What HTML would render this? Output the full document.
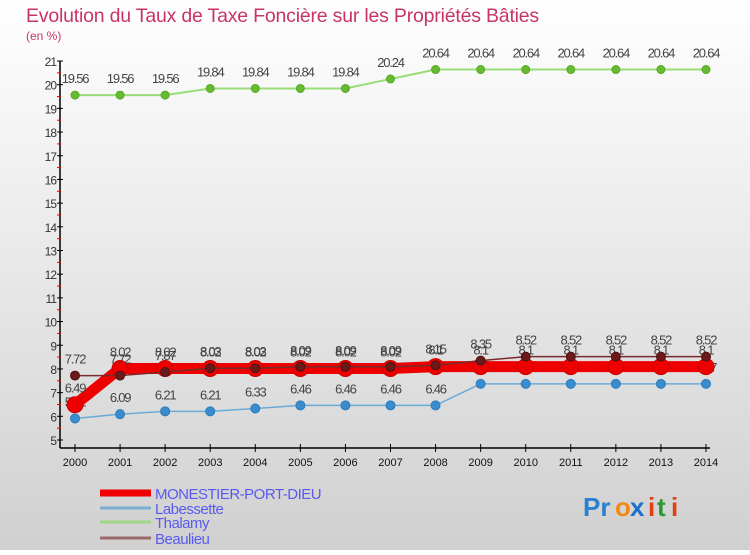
<!DOCTYPE html>
<html><head><meta charset="utf-8"><style>
html,body{margin:0;padding:0}
body{width:750px;height:550px;overflow:hidden;font-family:"Liberation Sans",sans-serif}
</style></head><body>
<svg id="chart" width="750" height="550" xmlns="http://www.w3.org/2000/svg">
<defs><linearGradient id="bg" x1="0" y1="0" x2="0" y2="1"><stop offset="0" stop-color="#ffffff"/><stop offset="1" stop-color="#d0d0d0"/></linearGradient></defs>
<rect x="0" y="0" width="750" height="550" fill="url(#bg)"/>
<text x="26" y="22" font-size="19.5" font-weight="300" fill="#c8336a" letter-spacing="-0.2">Evolution du Taux de Taxe Foncière sur les Propriétés Bâties</text>
<text x="26" y="40" font-size="12" fill="#c8336a">(en %)</text>
<g id="axes"></g><g id="series"></g><g id="legend"></g>
<g font-size="26" font-weight="bold">
<text x="583" y="516" fill="#2a7fd0">Pr</text><text x="615" y="516" fill="#f08a10">o</text><text x="630" y="516" fill="#1a6fd0">x</text><text x="648" y="516" fill="#e04010">i</text><text x="657" y="516" fill="#2a9a30">t</text><text x="671" y="516" fill="#e04010">i</text>
</g>
</svg>
<script>
const years=[2000,2001,2002,2003,2004,2005,2006,2007,2008,2009,2010,2011,2012,2013,2014];
const yTicks=[5,6,7,8,9,10,11,12,13,14,15,16,17,18,19,20,21];
const monestier=[6.49,8.02,8.02,8.02,8.02,8.02,8.02,8.02,8.1,8.1,8.1,8.1,8.1,8.1,8.1];
const labessette=[5.91,6.09,6.21,6.21,6.33,6.46,6.46,6.46,6.46,7.37,7.37,7.37,7.37,7.37,7.37];
const thalamy=[19.56,19.56,19.56,19.84,19.84,19.84,19.84,20.24,20.64,20.64,20.64,20.64,20.64,20.64,20.64];
const beaulieu=[7.72,7.72,7.87,8.03,8.03,8.09,8.09,8.09,8.15,8.35,8.52,8.52,8.52,8.52,8.52];
const seriesNames=["MONESTIER-PORT-DIEU","Labessette","Thalamy","Beaulieu"];
const NS="http://www.w3.org/2000/svg";
function xs(i){return 75+i*(706-75)/(years.length-1);}
function ys(v){return 440-(v-5)*(440-61)/16;}
function mk(tag,attrs,parent){const e=document.createElementNS(NS,tag);for(const k in attrs)e.setAttribute(k,attrs[k]);parent.appendChild(e);return e;}
const axes=document.getElementById('axes');
const yAxis=mk('line',{x1:60,y1:61,x2:60,y2:448,stroke:'#000','stroke-width':1.5},axes);


const xAxis=mk('line',{x1:60,y1:448,x2:710,y2:448,stroke:'#000','stroke-width':1.5},axes);


yTicks.forEach((t,i)=>{
  const y=ys(t);
  mk('line',{x1:57,y1:y,x2:63,y2:y,stroke:'#000'},axes);
  if(i<yTicks.length-1) mk('line',{x1:57,y1:ys(t+0.5),x2:61,y2:ys(t+0.5),stroke:'#e00'},axes);
  const tx=mk('text',{x:56,y:y+5,'font-size':12,fill:'#333','text-anchor':'end','letter-spacing':'-1'},axes);
  tx.textContent=t;
  
  
});
years.forEach((yr,i)=>{
  const x=xs(i);
  mk('line',{x1:x,y1:444,x2:x,y2:452,stroke:'#000'},axes);
  const tx=mk('text',{x:x,y:466,'font-size':11,fill:'#111','text-anchor':'middle'},axes);
  tx.textContent=yr;
  
  
});
const sg=document.getElementById('series');
function draw(vals,name,color,width,r,dot,dotStroke){
  const g=mk('g',{},sg);
  
  
  mk('polyline',{points:vals.map((v,i)=>xs(i)+','+ys(v)).join(' '),fill:'none',stroke:color,'stroke-width':width},g);
  vals.forEach((v,i)=>{
    const c=mk('circle',{cx:xs(i),cy:ys(v),r:r,fill:dot,stroke:dotStroke,'stroke-width':1},g);
    
    
  });
  vals.forEach((v,i)=>{
    const t=mk('text',{x:xs(i),y:ys(v)-12,'font-size':13,fill:'#444','text-anchor':'middle','letter-spacing':'-1.2'},g);
    t.textContent=v;
    
    
  });
}
draw(thalamy,'thalamy','#99dd77',2,4,'#66bb33','#55aa22');
draw(labessette,'labessette','#6aaad8',1.5,4.5,'#3a8ccc','#2a7cbc');
draw(monestier,'monestier','#ee0000',11,8,'#ee0000','#cc0000');
draw(beaulieu,'beaulieu','#7a2a2a',1.5,4.5,'#6a1a1a','#501010');
const lg=document.getElementById('legend');
const lc=['#ee0000','#79aed0','#9ed685','#9a6a6a'],lw=[7,3,3,3],ly=[493,508,522,538];
seriesNames.forEach((n,i)=>{
  const g=mk('g',{},lg);
  
  
  mk('line',{x1:100,y1:ly[i],x2:151,y2:ly[i],stroke:lc[i],'stroke-width':lw[i]},g);
  const t=mk('text',{x:155,y:ly[i]+6,'font-size':15,fill:'#5a5af0','letter-spacing':'-0.5'},g);
  t.textContent=n;
});
</script>
</body></html>
